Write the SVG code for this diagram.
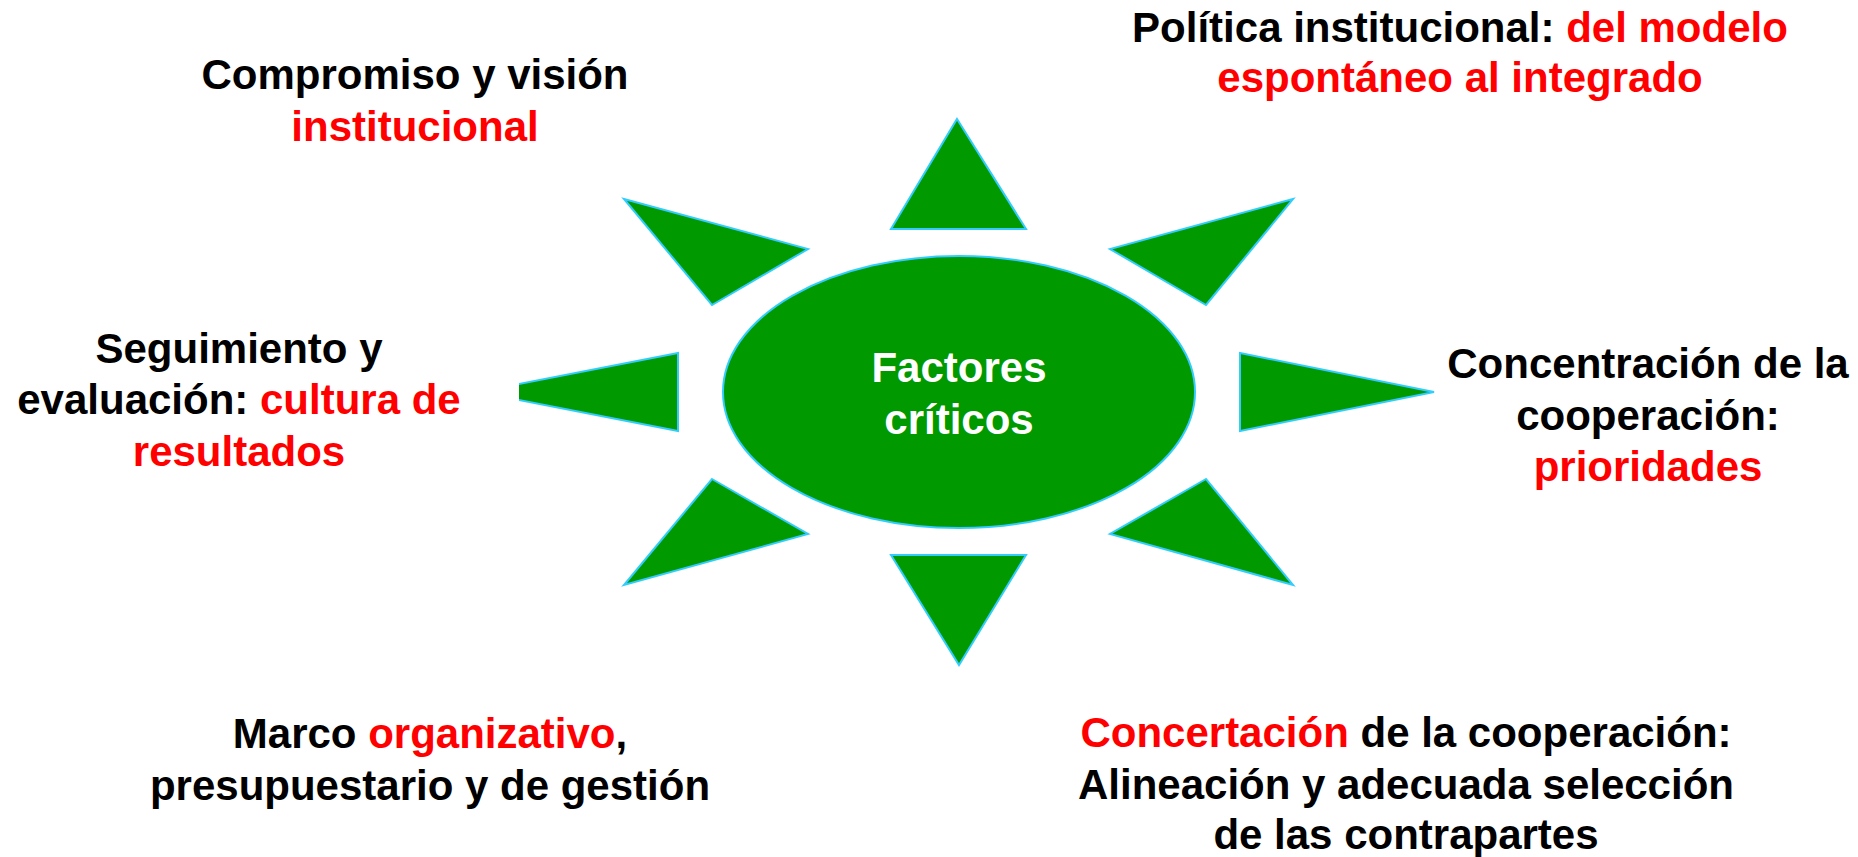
<svg xmlns="http://www.w3.org/2000/svg" width="1858" height="857" viewBox="0 0 1858 857">
  <style>
    .ray { fill: #009900; stroke: #33CCFF; stroke-width: 2; stroke-linejoin: miter; }
    .lbl { font-family: "Liberation Sans", Arial, sans-serif; font-weight: bold; font-size: 42px; fill: #000000; text-anchor: middle; }
    .red { fill: #FF0000; }
    .ctr { font-family: "Liberation Sans", Arial, sans-serif; font-weight: bold; font-size: 42px; fill: #FFFFFF; text-anchor: middle; }
  </style>
  <defs>
    <clipPath id="clipLeft">
      <rect x="519" y="300" width="200" height="180"/>
    </clipPath>
  </defs>
  <rect width="1858" height="857" fill="#FFFFFF"/>

  <g id="rays">
    <polygon id="ray-top" class="ray" points="957,119 1026,229 891,229"/>
    <polygon id="ray-upper-left" class="ray" points="624,199 808,249 712,305"/>
    <polygon id="ray-upper-right" class="ray" points="1293,199 1110,249 1206,305"/>
    <g clip-path="url(#clipLeft)">
      <polygon id="ray-left" class="ray" points="478,392 678,353 678,431"/>
    </g>
    <polygon id="ray-right" class="ray" points="1240,353 1434,392 1240,431"/>
    <polygon id="ray-lower-left" class="ray" points="712,479 808,534 624,585"/>
    <polygon id="ray-lower-right" class="ray" points="1206,479 1110,534 1293,585"/>
    <polygon id="ray-bottom" class="ray" points="891,555 1026,555 959,665"/>
  </g>

  <g id="center">
    <ellipse class="ray" cx="959" cy="392" rx="236" ry="136"/>
    <text class="ctr" x="959" y="382">Factores</text>
    <text class="ctr" x="959" y="434">críticos</text>
  </g>

  <g id="label-compromiso">
    <text class="lbl" x="415" y="89">Compromiso y visión</text>
    <text class="lbl red" x="415" y="141">institucional</text>
  </g>

  <g id="label-politica">
    <text class="lbl" x="1460" y="42">Política institucional: <tspan class="red">del modelo</tspan></text>
    <text class="lbl red" x="1460" y="92">espontáneo al integrado</text>
  </g>

  <g id="label-seguimiento">
    <text class="lbl" x="239" y="363">Seguimiento y</text>
    <text class="lbl" x="239" y="414">evaluación: <tspan class="red">cultura de</tspan></text>
    <text class="lbl red" x="239" y="466">resultados</text>
  </g>

  <g id="label-concentracion">
    <text class="lbl" x="1648" y="378">Concentración de la</text>
    <text class="lbl" x="1648" y="430">cooperación:</text>
    <text class="lbl red" x="1648" y="481">prioridades</text>
  </g>

  <g id="label-marco">
    <text class="lbl" x="430" y="748">Marco <tspan class="red">organizativo</tspan>,</text>
    <text class="lbl" x="430" y="800">presupuestario y de gestión</text>
  </g>

  <g id="label-concertacion">
    <text class="lbl" x="1406" y="747"><tspan class="red">Concertación</tspan> de la cooperación:</text>
    <text class="lbl" x="1406" y="799">Alineación y adecuada selección</text>
    <text class="lbl" x="1406" y="849">de las contrapartes</text>
  </g>
</svg>
